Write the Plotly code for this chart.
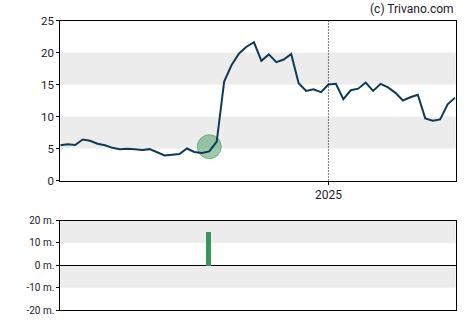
import pandas as pd
import plotly.graph_objects as go

# Data
start_date = "2024-04-24"
prices = [5.5, 5.65, 5.55, 6.4, 6.2, 5.75, 5.5, 5.1, 4.9, 4.97, 4.87, 4.77, 4.9, 4.35,
          3.9, 4.03, 4.14, 5.0, 4.45, 4.3, 4.55, 6.07, 15.45, 18.05, 19.85, 20.9, 21.6,
          18.7, 19.7, 18.5, 18.9, 19.77, 15.2, 14.0, 14.25, 13.8, 15.0, 15.1, 12.7, 14.1,
          14.35, 15.3, 14.0, 15.1, 14.55, 13.7, 12.5, 13.0, 13.4, 9.7, 9.35, 9.55, 11.9, 12.95]
dates = pd.date_range(start_date, periods=len(prices), freq="7D")

signal_date = dates[20]
signal_value = 5.28
volume_dates = [dates[20]]
volume_values = [15.0]  # millions

price_ticks = [0, 5, 10, 15, 20, 25]
vol_ticks = [-20, -10, 0, 10, 20]
vol_ticktext = ["-20 m.", "-10 m.", "0 m.", "10 m.", "20 m."]
year_tick = "2025-01-01"

W, H = 470, 325
x0, x1 = 60.3 / W, 455.7 / W
top_dom = [1 - 180.5 / H, 1 - 20.5 / H]
bot_dom = [1 - 310.2 / H, 1 - 220.5 / H]

line_color = "#0f3a57"
green = "#38965a"
font = "Roboto"

fig = go.Figure()
fig.add_trace(go.Scatter(x=[signal_date], y=[signal_value], mode="markers",
                         marker=dict(size=24, color="rgba(60,150,90,0.5)",
                                     line=dict(color="rgba(60,150,90,0.6)", width=1)),
                         xaxis="x", yaxis="y"))
fig.add_trace(go.Scatter(x=dates, y=prices, mode="lines",
                         line=dict(color=line_color, width=2), xaxis="x", yaxis="y",
                         hoverinfo="skip"))
fig.add_trace(go.Bar(x=volume_dates, y=volume_values, marker=dict(color=green, line=dict(width=0)),
                     width=5 * 86400000 * 7 / 7.45, xaxis="x2", yaxis="y2"))

xr = [dates[0], dates[-1] + pd.Timedelta(days=0.6)]
common_axis = dict(showline=True, linecolor="black", linewidth=1, mirror=True,
                   showgrid=False, zeroline=False, automargin=False)

shapes = []
for lo, hi in [(5, 10), (15, 20)]:
    shapes.append(dict(type="rect", xref="x domain", yref="y", x0=0, x1=1, y0=lo, y1=hi,
                       fillcolor="#ececec", line=dict(width=0), layer="below"))
for lo, hi in [(10, 20), (-10, 0)]:
    shapes.append(dict(type="rect", xref="x2 domain", yref="y2", x0=0, x1=1, y0=lo, y1=hi,
                       fillcolor="#ececec", line=dict(width=0), layer="below"))
shapes.append(dict(type="line", xref="x", yref="y domain", x0=year_tick, x1=year_tick, y0=0, y1=1,
                   line=dict(color="black", width=1, dash="1px,2px")))

fig.update_layout(
    template="none",
    width=W, height=H, margin=dict(l=0, r=0, t=0, b=0, pad=0), autosize=False,
    paper_bgcolor="white", plot_bgcolor="white", showlegend=False,
    font=dict(family=font, size=11, color="#1a1a2a"),
    xaxis=dict(domain=[x0, x1], range=xr, tickvals=[year_tick], ticktext=["2025"],
               ticks="outside", ticklen=3, tickcolor="black", anchor="y",
               tickfont=dict(size=12), **common_axis),
    yaxis=dict(domain=top_dom, range=[0, 25], tickvals=price_ticks, ticks="outside",
               ticklen=3, tickcolor="black", anchor="x", tickfont=dict(size=11.5), **common_axis),
    xaxis2=dict(domain=[x0, x1], range=xr, showticklabels=False, ticks="", anchor="y2",
                **common_axis),
    yaxis2=dict(domain=bot_dom, range=[-20, 20], tickvals=vol_ticks, ticktext=vol_ticktext,
                ticks="outside", ticklen=3, tickcolor="black", anchor="x2",
                tickfont=dict(size=10),
                showline=True, linecolor="black", linewidth=1, mirror=True, showgrid=False,
                zeroline=True, zerolinecolor="black", zerolinewidth=1, automargin=False),
    shapes=shapes,
    annotations=[dict(text="(c) Trivano.com", xref="paper", yref="paper", x=x1, y=1 - 9 / H,
                      xanchor="right", yanchor="middle", showarrow=False,
                      font=dict(family=font, size=12, color="#1a1a2a"))],
    bargap=0,
)

fig.write_html("out.html")
